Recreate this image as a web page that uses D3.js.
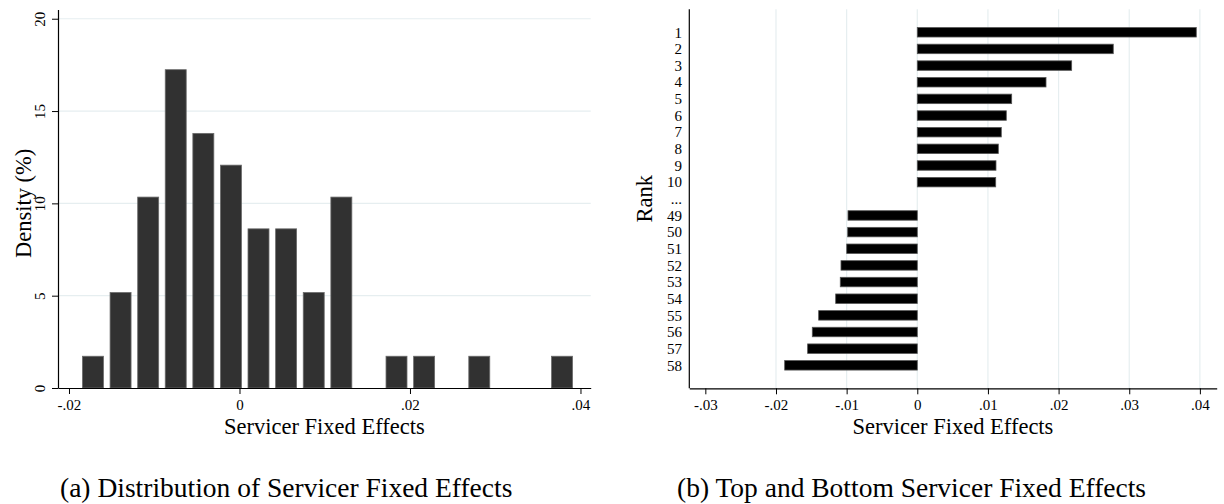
<!DOCTYPE html>
<html>
<head>
<meta charset="utf-8">
<script src="https://cdn.jsdelivr.net/npm/d3@7"></script>
<style>
  html, body { margin: 0; padding: 0; background: #fff; }
  svg { display: block; }
  text { font-family: "Liberation Serif", "Times New Roman", serif; fill: #000; }
</style>
</head>
<body>
<svg id="chart" width="1224" height="504"></svg>
<script>
// ---- Panel (a): histogram data ----
const binCenters = [-0.01719, -0.01395, -0.01071, -0.00748, -0.00424, -0.00100, 0.00223, 0.00547, 0.00871,
                    0.01195, 0.01518, 0.01842, 0.02166, 0.02490, 0.02813, 0.03137, 0.03461, 0.03784];
const density = [1.72, 5.17, 10.34, 17.24, 13.79, 12.07, 8.62, 8.62, 5.17, 10.34, 0, 1.72, 1.72, 0, 1.72, 0, 0, 1.72];
const binWidth = 0.003237;
const histXTicks = [-0.02, 0, 0.02, 0.04];
const histXTickLabels = ["-.02", "0", ".02", ".04"];
const histYTicks = [0, 5, 10, 15, 20];

// ---- Panel (b): ranks data ----
const rankLabels = ["1","2","3","4","5","6","7","8","9","10","...","49","50","51","52","53","54","55","56","57","58"];
const rankValues = [0.03949, 0.02774, 0.02185, 0.01822, 0.01336, 0.01260, 0.01189, 0.01147, 0.01114, 0.01110, null,
                    -0.00981, -0.00985, -0.00999, -0.01080, -0.01090, -0.01155, -0.01396, -0.01486, -0.01552, -0.01877];
const rankXTicks = [-0.03, -0.02, -0.01, 0, 0.01, 0.02, 0.03, 0.04];
const rankXTickLabels = ["-.03", "-.02", "-.01", "0", ".01", ".02", ".03", ".04"];

const svg = d3.select("#chart");
const gridColor = "#e6eef0";
const SERIF = "'Liberation Serif', 'Times New Roman', serif";
const TICK_FS = 15, TITLE_FS = 22.5, CAP_FS = 27.5;

function styleAxis(gAxis) {
  gAxis.attr("font-family", SERIF).attr("font-size", TICK_FS);
  gAxis.select(".domain").attr("stroke", "#000").attr("stroke-width", 1.2);
  gAxis.selectAll(".tick line").attr("stroke", "#000");
  gAxis.selectAll(".tick text").attr("fill", "#000");
}

// ================= Panel (a) =================
{
  const x = d3.scaleLinear().domain([-0.02129, 0.0412]).range([58, 590.7]);
  const y = d3.scaleLinear().domain([0, 20.5]).range([388, 9.5]);
  const g = svg.append("g");

  g.selectAll("line.grid").data(histYTicks.filter(d => d > 0)).enter().append("line")
    .attr("x1", x.range()[0]).attr("x2", x.range()[1])
    .attr("y1", d => y(d)).attr("y2", d => y(d))
    .attr("stroke", gridColor).attr("stroke-width", 1.2);

  const bars = binCenters.map((c, i) => ({ c, v: density[i] })).filter(d => d.v > 0);
  g.selectAll("rect.bar").data(bars).enter().append("rect")
    .attr("x", d => x(d.c - binWidth * 0.38))
    .attr("width", d => x(d.c + binWidth * 0.38) - x(d.c - binWidth * 0.38))
    .attr("y", d => y(d.v))
    .attr("height", d => y(0) - y(d.v))
    .attr("fill", "#313131").attr("stroke", "#6a6a6a").attr("stroke-width", 0.8);

  const xAxis = d3.axisBottom(x).tickValues(histXTicks).tickSize(6).tickSizeOuter(0)
    .tickFormat((d, i) => histXTickLabels[i]);
  const gx = g.append("g").attr("transform", `translate(0,${y(0)})`).call(xAxis);
  styleAxis(gx);
  gx.selectAll(".tick text").attr("y", 9).attr("dy", "0.87em");

  const yAxis = d3.axisLeft(y).tickValues(histYTicks).tickSize(6).tickSizeOuter(0);
  const gy = g.append("g").attr("transform", `translate(${x.range()[0]},0)`).call(yAxis);
  styleAxis(gy);
  gy.selectAll(".tick text")
    .attr("x", 0).attr("y", 0).attr("dy", 0)
    .attr("text-anchor", "middle")
    .attr("transform", "translate(-13,0) rotate(-90)");

  g.append("text").attr("x", (x.range()[0] + x.range()[1]) / 2).attr("y", 434)
    .attr("text-anchor", "middle").attr("font-size", TITLE_FS).text("Servicer Fixed Effects");
  g.append("text").attr("transform", `translate(31,${(y(0) + y(20)) / 2}) rotate(-90)`)
    .attr("text-anchor", "middle").attr("font-size", TITLE_FS).text("Density (%)");

  g.append("text").attr("x", 60).attr("y", 497).attr("text-anchor", "start")
    .attr("font-size", CAP_FS).text("(a) Distribution of Servicer Fixed Effects");
}

// ================= Panel (b) =================
{
  const x = d3.scaleLinear().domain([-0.03227, 0.04238]).range([689.3, 1216.7]);
  const y = d3.scaleLinear().domain([-0.38, 22.38]).range([9.3, 388.3]);
  const g = svg.append("g");

  g.selectAll("line.grid").data(rankXTicks.filter(d => d > -0.025)).enter().append("line")
    .attr("x1", d => x(d)).attr("x2", d => x(d))
    .attr("y1", y.range()[0]).attr("y2", y.range()[1])
    .attr("stroke", gridColor).attr("stroke-width", 1.2);

  const items = rankLabels.map((l, i) => ({ l, pos: i + 1, v: rankValues[i] }));
  const bh = 0.57;
  g.selectAll("rect.bar").data(items.filter(d => d.v !== null)).enter().append("rect")
    .attr("x", d => x(Math.min(0, d.v)))
    .attr("width", d => Math.abs(x(d.v) - x(0)))
    .attr("y", d => y(d.pos - bh / 2))
    .attr("height", d => y(d.pos + bh / 2) - y(d.pos - bh / 2))
    .attr("fill", "#000").attr("stroke", "#555").attr("stroke-width", 0.8);

  const xAxis = d3.axisBottom(x).tickValues(rankXTicks).tickSize(6).tickSizeOuter(0)
    .tickFormat((d, i) => rankXTickLabels[i]);
  const gx = g.append("g").attr("transform", `translate(0,${y.range()[1]})`).call(xAxis);
  styleAxis(gx);
  gx.selectAll(".tick text").attr("y", 9).attr("dy", "0.87em");

  g.append("line").attr("x1", x.range()[0]).attr("x2", x.range()[0])
    .attr("y1", y.range()[0]).attr("y2", y.range()[1])
    .attr("stroke", "#000").attr("stroke-width", 1.2);

  g.selectAll("text.rank").data(items).enter().append("text")
    .attr("x", 682).attr("y", d => y(d.pos)).attr("dy", "0.35em")
    .attr("text-anchor", "end").attr("font-size", TICK_FS).text(d => d.l);

  g.append("text").attr("x", (x.range()[0] + x.range()[1]) / 2).attr("y", 434)
    .attr("text-anchor", "middle").attr("font-size", TITLE_FS).text("Servicer Fixed Effects");
  g.append("text").attr("transform", `translate(652,${(y.range()[0] + y.range()[1]) / 2}) rotate(-90)`)
    .attr("text-anchor", "middle").attr("font-size", TITLE_FS).text("Rank");

  g.append("text").attr("x", 677).attr("y", 497).attr("text-anchor", "start")
    .attr("font-size", CAP_FS).text("(b) Top and Bottom Servicer Fixed Effects");
}
</script>
</body>
</html>
